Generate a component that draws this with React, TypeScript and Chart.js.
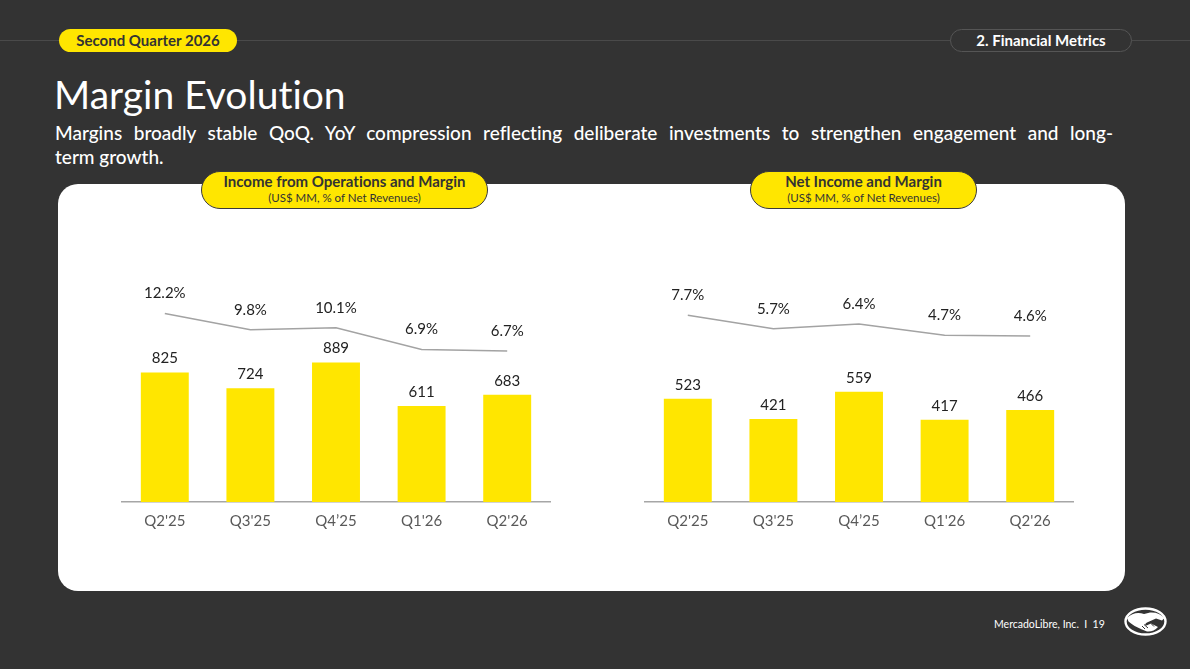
import React, { useEffect, useRef } from "react";
import { Chart, registerables } from "chart.js";

Chart.register(...registerables);

const categories = ["Q2'25", "Q3'25", "Q4’25", "Q1'26", "Q2'26"];
const opIncome = [825, 724, 889, 611, 683];
const opMargin = [12.2, 9.8, 10.1, 6.9, 6.7];
const netIncome = [523, 421, 559, 417, 466];
const netMargin = [7.7, 5.7, 6.4, 4.7, 4.6];

const FONT = "Lato, 'Noto Sans', sans-serif";
const YELLOW = "#FFE600";
const BG = "#333333";

const labelPlugin = {
  id: "valueLabels",
  afterDatasetsDraw(chart: any) {
    const ctx = chart.ctx;
    ctx.save();
    ctx.fillStyle = "#222222";
    ctx.font = `15px ${FONT}`;
    ctx.textAlign = "center";
    ctx.textBaseline = "middle";
    chart.data.datasets.forEach((ds: any, i: number) => {
      const meta = chart.getDatasetMeta(i);
      meta.data.forEach((el: any, j: number) => {
        const v = ds.data[j];
        if (ds.type === "line") {
          ctx.fillText(`${v.toFixed(1)}%`, el.x, el.y - 20);
        } else {
          ctx.fillText(String(v), el.x, el.y - 14);
        }
      });
    });
    ctx.restore();
  },
};

type ComboProps = {
  bars: number[];
  line: number[];
  barMax: number;
  lineMin: number;
  lineMax: number;
  style: React.CSSProperties;
};

function ComboChart({ bars, line, barMax, lineMin, lineMax, style }: ComboProps) {
  const ref = useRef<HTMLCanvasElement | null>(null);
  useEffect(() => {
    if (!ref.current) return;
    const chart = new Chart(ref.current, {
      type: "bar",
      data: {
        labels: categories,
        datasets: [
          {
            type: "line",
            data: line,
            yAxisID: "y1",
            borderColor: "#a3a3a3",
            borderWidth: 1.5,
            pointRadius: 0,
            tension: 0,
            fill: false,
          } as any,
          {
            type: "bar",
            data: bars,
            yAxisID: "y",
            backgroundColor: YELLOW,
            borderWidth: 0,
            categoryPercentage: 1,
            barPercentage: 0.56,
          } as any,
        ],
      },
      options: {
        animation: false,
        responsive: false,
        maintainAspectRatio: false,
        layout: { padding: { left: 22, right: 20, top: 10, bottom: 0 } },
        plugins: { legend: { display: false }, tooltip: { enabled: false } },
        scales: {
          x: {
            grid: { display: false, drawTicks: false },
            border: { display: true, color: "#a6a6a6", width: 1.5 },
            ticks: { color: "#595959", font: { family: FONT, size: 15 }, padding: 10 },
          },
          y: { display: false, min: 0, max: barMax },
          y1: { display: false, min: lineMin, max: lineMax },
        },
      },
      plugins: [labelPlugin],
    });
    return () => chart.destroy();
  }, []);
  return <canvas ref={ref} width={470} height={310} style={{ position: "absolute", width: 470, height: 310, ...style }} />;
}

function HeaderPill({ title, left, width }: { title: string; left: number; width: number }) {
  return (
    <div
      style={{
        position: "absolute",
        left,
        top: 171,
        width,
        height: 38,
        boxSizing: "border-box",
        borderRadius: 19,
        background: YELLOW,
        border: "1px solid #3a3a3a",
        textAlign: "center",
        color: "#333",
        fontFamily: FONT,
      }}
    >
      <div style={{ fontSize: 15, fontWeight: 700, lineHeight: "17px", marginTop: 1 }}>{title}</div>
      <div style={{ fontSize: 11.5, lineHeight: "14px", marginTop: 1 }}>(US$ MM, % of Net Revenues)</div>
    </div>
  );
}

export default function App() {
  return (
    <div
      style={{
        position: "fixed",
        left: 0,
        top: 0,
        width: 1190,
        height: 669,
        background: BG,
        overflow: "hidden",
        fontFamily: FONT,
        fontVariantLigatures: "none",
      }}
    >
      <div style={{ position: "absolute", left: 0, top: 40, width: 1190, height: 1, background: "#4a4a4a" }} />
      <div
        style={{
          position: "absolute",
          left: 59,
          top: 29,
          width: 178,
          height: 23,
          borderRadius: 12,
          background: YELLOW,
          color: "#333",
          fontWeight: 700,
          fontSize: 15,
          lineHeight: "23px",
          textAlign: "center",
        }}
      >
        Second Quarter 2026
      </div>
      <div
        style={{
          position: "absolute",
          left: 950,
          top: 29,
          width: 182,
          height: 23,
          boxSizing: "border-box",
          borderRadius: 12,
          background: BG,
          border: "1px solid #555",
          color: "#fff",
          fontWeight: 700,
          fontSize: 15,
          lineHeight: "21px",
          textAlign: "center",
        }}
      >
        2. Financial Metrics
      </div>
      <div
        style={{
          position: "absolute",
          left: 54,
          top: 69,
          color: "#fff",
          fontSize: 39,
          lineHeight: "50px",
          fontWeight: 400,
        }}
      >
        Margin Evolution
      </div>
      <div
        style={{
          position: "absolute",
          left: 55,
          top: 121,
          width: 1058,
          color: "#fff",
          fontSize: 19,
          fontWeight: 500,
          lineHeight: "24px",
          textAlign: "justify",
          textAlignLast: "justify",
          whiteSpace: "nowrap",
        } as any}
      >
        Margins broadly stable QoQ. YoY compression reflecting deliberate investments to strengthen engagement and long-
      </div>
      <div
        style={{
          position: "absolute",
          left: 55,
          top: 145,
          color: "#fff",
          fontSize: 19,
          fontWeight: 500,
          lineHeight: "24px",
        }}
      >
        term growth.
      </div>
      <div
        style={{
          position: "absolute",
          left: 58,
          top: 184,
          width: 1067,
          height: 407,
          borderRadius: 20,
          background: "#fff",
        }}
      />
      <ComboChart bars={opIncome} line={opMargin} barMax={1669} lineMin={-15.5} lineMax={23} style={{ left: 100, top: 230 }} />
      <ComboChart bars={netIncome} line={netMargin} barMax={1328} lineMin={-20.2} lineMax={18.95} style={{ left: 623, top: 230 }} />
      <HeaderPill title="Income from Operations and Margin" left={201} width={287} />
      <HeaderPill title="Net Income and Margin" left={750} width={227} />
      <div
        style={{
          position: "absolute",
          left: 994,
          top: 617,
          color: "#fff",
          fontSize: 10.5,
          lineHeight: "14px",
          whiteSpace: "pre",
        }}
      >
        {"MercadoLibre, Inc.  I  19"}
      </div>
      <svg style={{ position: "absolute", left: 1120, top: 604, width: 52, height: 36 }} viewBox="0 0 52 36">
        <ellipse cx="25.5" cy="17.5" rx="20" ry="13" fill="none" stroke="#fff" strokeWidth="2.4" />
        <path
          d="M7 14 C12 9 18 8 24 10 L30 8.5 C36 8 41 10 44.5 14 L42 16.5 L36 14.5 L27 18.5 C25 19.5 24.5 21.5 26.5 21.5 L31 19.5 L38 23 C35 26.5 31 28 27 27.5 L22 25.5 C17 23.5 12 20.5 8.5 17.5 Z"
          fill="#fff"
        />
        <path d="M22 22 L25 25 M24 20.5 L28 24 M31 19.5 L34 22.5" stroke={BG} strokeWidth="1" fill="none" />
      </svg>
    </div>
  );
}
